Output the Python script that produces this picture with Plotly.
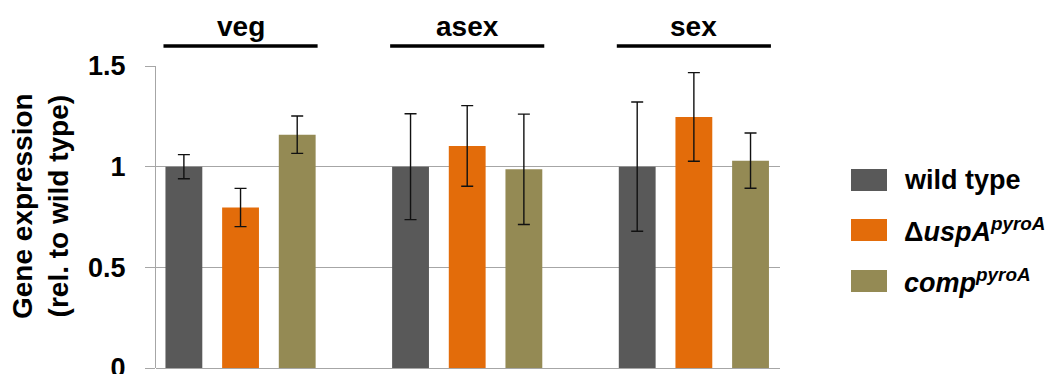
import plotly.graph_objects as go

# Relative gene expression per developmental stage
stages = ["veg", "asex", "sex"]
strains = ["wild type", "ΔuspA<sup>pyroA</sup>", "comp<sup>pyroA</sup>"]
legend_labels = ["wild type", "Δ<i>uspA<sup>pyroA</sup></i>", "<i>comp<sup>pyroA</sup></i>"]
colors = ["#595959", "#E36C0A", "#948A54"]

wild_type = [1.00, 1.00, 1.00]
wild_type_err = [0.06, 0.263, 0.321]
uspA = [0.797, 1.103, 1.247]
uspA_err = [0.095, 0.20, 0.22]
comp = [1.159, 0.987, 1.030]
comp_err = [0.093, 0.274, 0.137]

y_ticks = [0, 0.5, 1, 1.5]
y_tick_text = ["0", "0.5", "1", "1.5"]

values = [wild_type, uspA, comp]
errors = [wild_type_err, uspA_err, comp_err]

W, H = 1055, 374
ML, MR, MT, MB = 156, 275, 66, 6
PW, PH = W - ML - MR, H - MT - MB
FONT = "Arial, Liberation Sans, sans-serif"


def px_x(p):
    return (p - ML) / PW


def px_y(p):
    return (H - MB - p) / PH


fig = go.Figure()
for name, vals, errs, col in zip(strains, values, errors, colors):
    fig.add_trace(go.Bar(
        x=stages, y=vals, name=name,
        marker=dict(color=col, line=dict(width=0)),
        error_y=dict(type="data", array=errs, visible=True,
                     color="#111111", thickness=1.4, width=6),
        showlegend=False,
    ))

# stage headers with bars above the plot
shapes = []
annotations = []
for i, st in enumerate(stages):
    shapes.append(dict(type="line", xref="x", yref="paper",
                       x0=i - 0.34, x1=i + 0.34, y0=px_y(46), y1=px_y(46),
                       line=dict(color="black", width=3.5)))
    annotations.append(dict(xref="x", yref="paper", x=i, y=px_y(26),
                            text=f"<b>{st}</b>", showarrow=False,
                            xanchor="center", yanchor="middle",
                            font=dict(family=FONT, size=28, color="black")))

# legend drawn as swatches and labels
legend_centers = [180, 230, 281]
for lab, col, cy in zip(legend_labels, colors, legend_centers):
    shapes.append(dict(type="rect", xref="paper", yref="paper",
                       x0=px_x(851), x1=px_x(887),
                       y0=px_y(cy + 11), y1=px_y(cy - 11),
                       fillcolor=col, line=dict(width=0)))
    annotations.append(dict(xref="paper", yref="paper", x=px_x(902), y=px_y(cy),
                            text=f"<b>{lab}</b>", showarrow=False,
                            xanchor="left", yanchor="middle",
                            font=dict(family=FONT, size=27, color="black")))

# y axis title
annotations.append(dict(xref="paper", yref="paper", x=px_x(40), y=px_y(206),
                        text="<b>Gene expression<br>(rel. to wild type)</b>",
                        textangle=-90, showarrow=False,
                        xanchor="center", yanchor="middle",
                        font=dict(family=FONT, size=28, color="black")))

fig.update_layout(
    width=W, height=H,
    margin=dict(l=ML, r=MR, t=MT, b=MB, pad=0, autoexpand=False),
    paper_bgcolor="white", plot_bgcolor="white",
    barmode="group", bargap=0.25, bargroupgap=0.35,
    shapes=shapes, annotations=annotations,
    font=dict(family=FONT, color="black"),
)
fig.update_xaxes(range=[-0.373, 2.38], showticklabels=False, showgrid=False,
                 showline=False, zeroline=False, ticks="", automargin=False)
fig.update_yaxes(range=[0, 1.5], tickvals=y_ticks, ticktext=[f"<b>{t}</b>" for t in y_tick_text],
                 tickfont=dict(family=FONT, size=27, color="black"),
                 showgrid=True, gridcolor="#A6A6A6", gridwidth=1.3,
                 zeroline=True, zerolinecolor="#A6A6A6", zerolinewidth=1.3,
                 showline=True, linecolor="#A6A6A6", linewidth=1.3,
                 ticks="outside", ticklen=10, tickcolor="#A6A6A6", tickwidth=1.3,
                 ticklabelstandoff=14, ticklabeloverflow="allow", automargin=False)

fig.write_html("out.html")
